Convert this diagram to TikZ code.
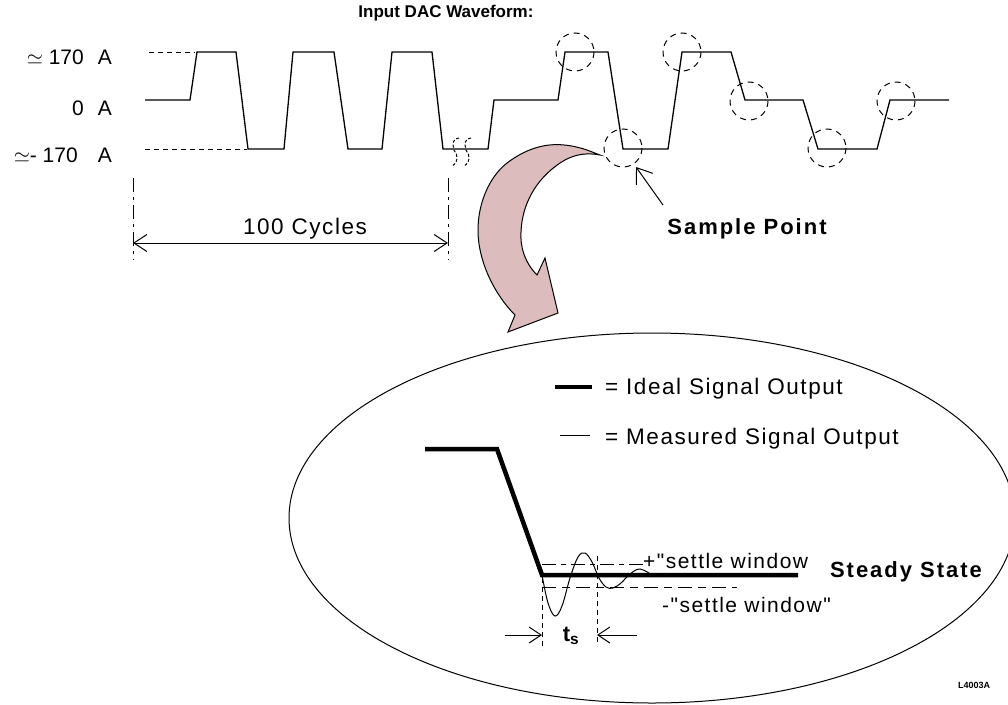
\documentclass[tikz,border=0pt]{standalone}
\usepackage{fontspec}
\setmainfont{Liberation Sans}
\newfontfamily\spc{Liberation Sans}[LetterSpace=7, Ligatures=TeXOff]
\newfontfamily\spcb{Liberation Sans}[LetterSpace=9, Ligatures=TeXOff]
\usetikzlibrary{arrows.meta}
\definecolor{arrowpink}{RGB}{220,188,188}
\tikzset{
  wave/.style={line width=1.3pt, line join=miter},
  guide/.style={line width=1pt, dashed, dash pattern=on 5pt off 4pt},
  dashcirc/.style={line width=1pt, dash pattern=on 6pt off 5pt},
  dimline/.style={line width=1pt, dash pattern=on 14pt off 5pt on 3pt off 5pt},
  barb/.style={line width=1pt},
  lbl/.style={inner sep=0pt, font=\fontsize{21}{24}\selectfont},
  txt/.style={inner sep=0pt, font=\spc\fontsize{22.5}{26}\selectfont},
  stxt/.style={inner sep=0pt, font=\spc\fontsize{21}{24}\selectfont},
  btxt/.style={inner sep=0pt, font=\spcb\fontsize{22}{26}\selectfont\bfseries},
  ttl/.style={inner sep=0pt, font=\fontsize{17}{20}\selectfont\bfseries},
  ideal/.style={line width=4.5pt, line join=miter},
  thin/.style={line width=1pt},
  bigarrow/.style={fill=arrowpink, draw=black, line width=1pt, line join=miter},
  sq/.style={line width=1pt, dash pattern=on 3pt off 2pt}
}
\begin{document}
\begin{tikzpicture}[x=1pt,y=-1pt]
\useasboundingbox (0,0) rectangle (1008,704);

% title
\node[ttl] (title) at (446,13) {Input DAC Waveform:};

% level labels
\node[lbl, anchor=east] (l1) at (84,57) {$\simeq$ 170};
\node[lbl, anchor=east] (l2) at (84,108) {0};
\node[lbl, anchor=east] (l3) at (78,155) {$\simeq$- 170};
\node[lbl] (a1) at (105,57) {A};
\node[lbl] (a2) at (105,108) {A};
\node[lbl] (a3) at (105,155) {A};

% guide dashes
\draw[guide] (149,52) -- (195,52);
\draw[guide] (145,149) -- (247,149);

% waveform
\draw[wave] (145,100) -- (190,100) -- (197,52) -- (236,52) -- (248,149) -- (284,149)
  -- (293,52) -- (334,52) -- (348,149) -- (382,149) -- (392,52) -- (432,52)
  -- (443,149) -- (488,149) -- (494,100) -- (558,100) -- (565,52) -- (608,52)
  -- (623,149) -- (668,149) -- (682,52) -- (731,52) -- (745,100) -- (803,100)
  -- (818,149) -- (877,149) -- (890,100) -- (949,100);

% break marks
\foreach \xo in {453,465}{
  \draw[sq] (\xo+6,138) .. controls (\xo,138) and (\xo-1,144) .. (\xo+1,150)
     .. controls (\xo+5,155) and (\xo+6,162) .. (\xo-1,166);
}

% sample circles
\foreach \cx/\cy in {575/52, 682/52, 749/101, 896/101, 623/148, 827/148}{
  \draw[dashcirc] (\cx,\cy) circle[radius=19];
}

% sample point arrow
\node[btxt] (sp) at (747,229) {Sample Point};
\coordinate (spS) at (663,205);
\coordinate (spT) at (636,167);
\draw[barb, -{Straight Barb[length=14pt,width=20pt]}] (spS) -- (spT);

% 100 cycles dimension
\coordinate (dL) at (133,243);
\coordinate (dR) at (448,243);
\draw[dimline] (133,178) -- (133,260);
\draw[dimline] (448,178) -- (448,260);
\draw[barb, {Straight Barb[length=13pt,width=17pt]}-{Straight Barb[length=13pt,width=17pt]}] (dL) -- (dR);
\node[txt] (cyc) at (305,229) {100 Cycles};

% curved pink arrow
\filldraw[bigarrow] (600,155) -- (587,150) .. controls (560,141) and (535,142) .. (507,163)
  .. controls (488,178) and (478,205) .. (478,230)
  .. controls (478,262) and (495,295) .. (515,315)
  -- (508,332) -- (558,313) -- (545,258) -- (537,275)
  .. controls (524,262) and (520,245) .. (521,232)
  .. controls (522,205) and (535,180) .. (560,163)
  .. controls (572,155) and (585,152) .. (600,155) -- cycle;

% ellipse
\draw[thin] (652,518) ellipse[x radius=363, y radius=185];

% legend
\draw[ideal] (555,387) -- (592,387);
\node[txt, anchor=west] (leg1) at (605,389) {= Ideal Signal Output};
\draw[thin] (560,435) -- (590,435);
\node[txt, anchor=west] (leg2) at (605,439) {= Measured Signal Output};

% ideal signal
\draw[ideal] (425,449) -- (497,449) -- (542,575) -- (798,575);

% settle window lines
\draw[thin, dash pattern=on 14pt off 5pt on 5pt off 5pt] (542,564) -- (645,564);
\draw[thin, dash pattern=on 14pt off 6pt on 8pt off 6pt] (542,587) -- (737,587);
\node[stxt, anchor=west] (sw1) at (643,561) {+"settle window};
\node[stxt, anchor=west] (sw2) at (662,605) {-"settle window"};

% measured signal
\draw[thin] plot[smooth, tension=0.6] coordinates {(542,575) (548,603) (555,616) (562,606) (570,578) (578,557) (585,553) (592,562) (599,578) (606,587) (613,588) (621,583) (630,574) (640,569) (652,575)};

% settling time markers
\draw[thin, dash pattern=on 5pt off 4pt] (542,578) -- (542,650);
\draw[thin, dash pattern=on 5pt off 4pt] (597,556) -- (597,646);
\coordinate (tl) at (505,635);
\coordinate (tlE) at (542,635);
\coordinate (tr) at (637,635);
\coordinate (trE) at (597,635);
\draw[barb, -{Straight Barb[length=12pt,width=16pt]}] (tl) -- (tlE);
\draw[barb, -{Straight Barb[length=12pt,width=16pt]}] (tr) -- (trE);
\node[inner sep=0pt, font=\fontsize{22}{26}\selectfont\bfseries] (ts) at (571,636) {t\textsubscript{s}};

% steady state
\node[btxt] (ss) at (906,572) {Steady State};

% figure id
\node[inner sep=0pt, font=\fontsize{9}{10}\selectfont\bfseries] (fid) at (974,685) {L4003A};
\end{tikzpicture}
\end{document}
